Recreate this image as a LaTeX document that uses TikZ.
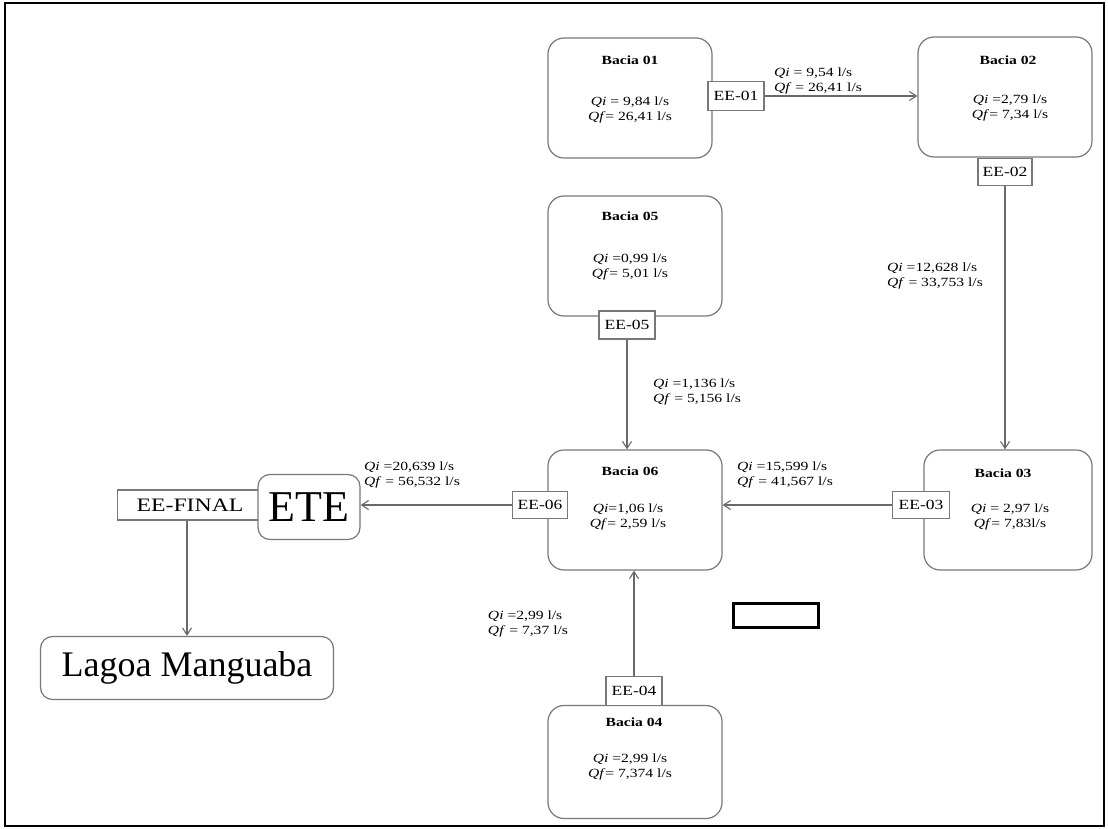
\documentclass[tikz,border=0pt]{standalone}
\usepackage{fontspec}
\setmainfont{Liberation Serif}
\newfontfamily\smallfam[FakeStretch=1.25]{Liberation Serif}
\usetikzlibrary{arrows.meta}
\definecolor{lnc}{RGB}{105,105,105}
\definecolor{boxc}{RGB}{120,120,120}
\tikzset{
  bacia/.style={draw=boxc, line width=1.2pt, rounded corners=16pt, fill=white, inner sep=0pt},
  eebox/.style={draw=boxc, line width=1.2pt, fill=white, inner sep=0pt, font=\smallfam\fontsize{14}{16}\selectfont},
  ttl/.style={font=\smallfam\bfseries\fontsize{12.5}{15}\selectfont, inner sep=0pt},
  vals/.style={font=\smallfam\fontsize{12.5}{15}\selectfont, align=center, inner sep=0pt},
  flowlbl/.style={font=\smallfam\fontsize{12.5}{15.5}\selectfont, align=left, inner sep=0pt},
  flow/.style={draw=lnc, line width=1.1pt, -{Straight Barb[length=7pt,width=9pt]}},
  plain/.style={draw=lnc, line width=1.1pt},
  bigbox/.style={draw=boxc, line width=1.2pt, rounded corners=12pt, fill=white, inner sep=0pt}
}
\newcommand{\qi}{\textit{Qi}}
\newcommand{\qf}{\textit{Qf}}
\begin{document}
\begin{tikzpicture}[x=1pt,y=-1pt]
\useasboundingbox (0,0) rectangle (1108,829);
\draw[line width=2.2pt] (5,3) rectangle (1104,826);

% Bacia boxes
\node[bacia, minimum width=164pt, minimum height=120pt] (b1) at (630,98) {};
\node[bacia, minimum width=174pt, minimum height=120pt] (b2) at (1005,97) {};
\node[bacia, minimum width=168pt, minimum height=120pt] (b3) at (1008,510) {};
\node[bacia, minimum width=174pt, minimum height=120pt] (b5) at (635,256) {};
\node[bacia, minimum width=174pt, minimum height=120pt] (b6) at (635,510) {};
\node[bacia, minimum width=174pt, minimum height=113pt] (b4) at (635,762) {};

% Titles and values
\node[ttl] (b1t) at (630,60) {Bacia 01};
\node[vals] (b1v) at (630,110) {\qi{} = 9,84 l/s\\\qf{}= 26,41 l/s};
\node[ttl] (b2t) at (1008,60) {Bacia 02};
\node[vals] (b2v) at (1010,108) {\qi{} =2,79 l/s\\\qf{}= 7,34 l/s};
\node[ttl] (b3t) at (1003,473) {Bacia 03};
\node[vals] (b3v) at (1010,517) {\qi{} = 2,97 l/s\\\qf{}= 7,83l/s};
\node[ttl] (b5t) at (630,216) {Bacia 05};
\node[vals] (b5v) at (630,267) {\qi{} =0,99 l/s\\\qf{}= 5,01 l/s};
\node[ttl] (b6t) at (630,471) {Bacia 06};
\node[vals] (b6v) at (628,517) {\qi{}=1,06 l/s\\\qf{}= 2,59 l/s};
\node[ttl] (b4t) at (634,722) {Bacia 04};
\node[vals] (b4v) at (630,767) {\qi{} =2,99 l/s\\\qf{}= 7,374 l/s};

% EE boxes
\node[eebox, minimum width=56pt, minimum height=29pt] (e1) at (736,96) {EE-01};
\node[eebox, minimum width=54pt, minimum height=27pt] (e2) at (1005,172) {EE-02};
\node[eebox, minimum width=57pt, minimum height=27pt] (e3) at (921,505) {EE-03};
\node[eebox, minimum width=56pt, minimum height=28pt] (e5) at (627,325) {EE-05};
\node[eebox, minimum width=55pt, minimum height=27pt] (e6) at (540,505) {EE-06};
\node[eebox, minimum width=56pt, minimum height=29pt] (e4) at (634,691) {EE-04};

% Final
\node[eebox, minimum width=145pt, minimum height=30pt, font=\smallfam\fontsize{19}{22}\selectfont] (ef) at (190,505) {EE-FINAL};
\node[bigbox, minimum width=102pt, minimum height=65pt, font=\fontsize{44}{48}\selectfont] (ete) at (309,507) {ETE};
\node[bigbox, minimum width=293pt, minimum height=63pt, font=\fontsize{36}{40}\selectfont] (lag) at (187,668) {Lagoa Manguaba};

% Connectors
\draw[flow] (e1.east) -- (b2.west |- e1.east);
\draw[flow] (e2.south) -- (e2.south |- b3.north);
\draw[flow] (e3.west) -- (b6.east |- e3.west);
\draw[flow] (e5.south) -- (e5.south |- b6.north);
\draw[flow] (e4.north) -- (e4.north |- b6.south);
\draw[flow] (e6.west) -- (ete.east |- e6.west);
\draw[flow] (ef.south -| lag.north) -- (lag.north);

% Flow labels
\node[flowlbl] (l1) at (818,81) {\qi{} = 9,54 l/s\\\qf{} = 26,41 l/s};
\node[flowlbl] (l2) at (935,276) {\qi{} =12,628 l/s\\\qf{} = 33,753 l/s};
\node[flowlbl] (l3) at (785,475) {\qi{} =15,599 l/s\\\qf{} = 41,567 l/s};
\node[flowlbl] (l5) at (697,392) {\qi{} =1,136 l/s\\\qf{} = 5,156 l/s};
\node[flowlbl] (l6) at (412,475) {\qi{} =20,639 l/s\\\qf{} = 56,532 l/s};
\node[flowlbl] (l4) at (528,624) {\qi{} =2,99 l/s\\\qf{} = 7,37 l/s};

% empty black rectangle
\node[draw=black, line width=3pt, minimum width=85pt, minimum height=24pt, inner sep=0pt] (blk) at (775.5,615) {};
\end{tikzpicture}
\end{document}
